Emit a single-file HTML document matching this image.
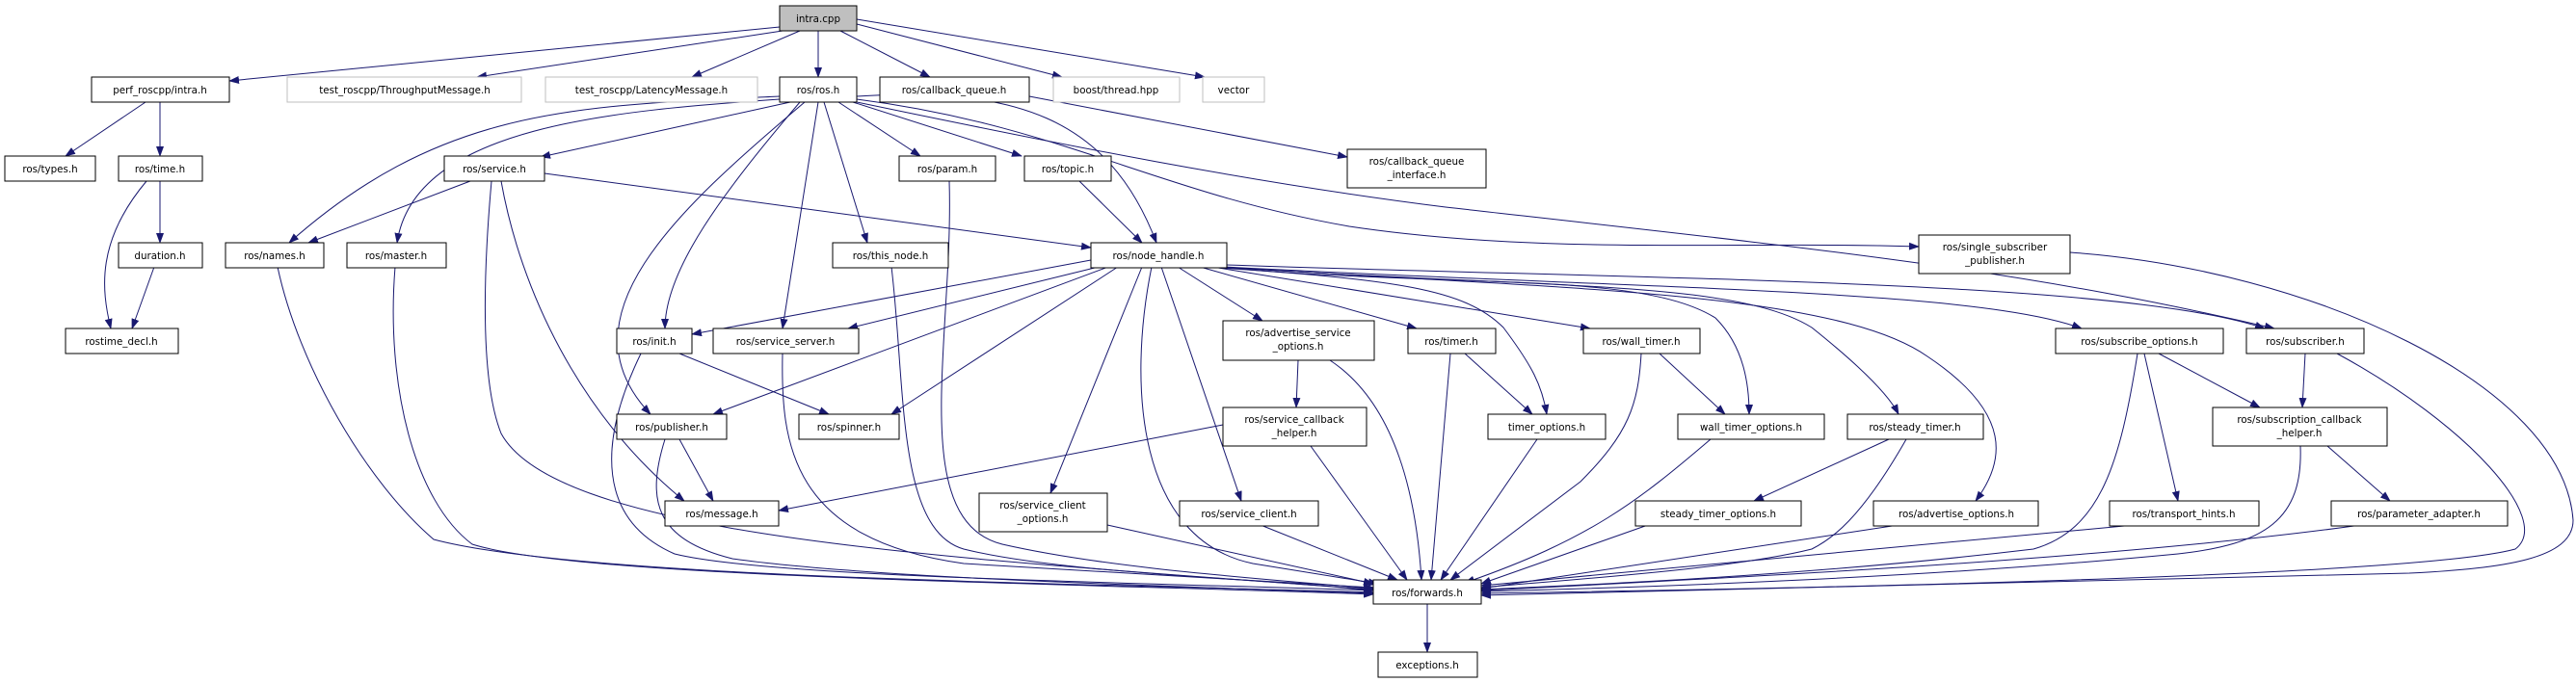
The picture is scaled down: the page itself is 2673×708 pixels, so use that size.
<!DOCTYPE html>
<html><head><meta charset="utf-8"><style>
html,body{margin:0;padding:0;background:#fff;}
svg{display:block;}
text{font-family:"DejaVu Sans","Liberation Sans",sans-serif;font-size:10.3px;fill:#000;text-anchor:middle;}
.n{fill:#fff;stroke:#000;stroke-width:1;}
.g{fill:#fff;stroke:#bfbfbf;stroke-width:1;}
.e{fill:none;stroke:#191970;stroke-width:1;}
</style></head><body>
<svg width="2673" height="708" viewBox="0 0 2673 708" xmlns="http://www.w3.org/2000/svg">
<defs><marker id="a" markerWidth="11" markerHeight="8" refX="10" refY="4" orient="auto" markerUnits="userSpaceOnUse"><path d="M0,0 L11,4 L0,8 z" fill="#191970"/></marker></defs>
<g class="e" marker-end="url(#a)">
<path d="M809 28 L238 84"/>
<path d="M812 32 L495 80"/>
<path d="M830 32 L718 80"/>
<path d="M849 32 L849 80"/>
<path d="M872 32 L965 80"/>
<path d="M889 25 L1102 80"/>
<path d="M889 20 L1250 80"/>
<path d="M151 106 L68 162"/>
<path d="M166 106 L166 162"/>
<path d="M166 188 L166 252"/>
<path d="M152 188 C100 250 105 300 115 341"/>
<path d="M160 277 L137 341"/>
<path d="M809 100 C600 110 460 110 300 252"/>
<path d="M809 103 C640 115 430 130 412 252"/>
<path d="M820 106 L561 163"/>
<path d="M830 106 C750 200 690 280 690 341"/>
<path d="M835 106 C700 220 580 330 675 430"/>
<path d="M849 106 L812 341"/>
<path d="M855 106 L900 252"/>
<path d="M870 106 L955 162"/>
<path d="M885 106 L1060 162"/>
<path d="M889 100 C1050 90 1150 120 1200 252"/>
<path d="M889 103 C1100 130 1200 200 1400 235 C1600 265 1800 250 1991 256"/>
<path d="M889 106 C1100 150 1300 190 1500 215 C1900 260 2100 280 2360 341"/>
<path d="M1068 100 L1398 163"/>
<path d="M488 188 L320 252"/>
<path d="M565 180 L1132 257"/>
<path d="M520 188 C540 300 600 430 710 520"/>
<path d="M510 188 C500 300 500 400 520 450 C580 560 1000 580 1425 612"/>
<path d="M288 277 C310 380 380 500 450 560 C600 600 1100 605 1425 615"/>
<path d="M410 277 C400 400 430 520 490 565 C600 600 1100 605 1425 617"/>
<path d="M925 277 C940 400 930 550 1000 570 C1100 595 1300 600 1425 613"/>
<path d="M985 188 C990 350 940 540 1040 565 C1150 590 1300 600 1425 611"/>
<path d="M1120 188 L1185 252"/>
<path d="M1132 270 L718 347"/>
<path d="M1140 277 L880 341"/>
<path d="M1150 277 L740 430"/>
<path d="M1160 277 L925 430"/>
<path d="M1185 277 L1090 512"/>
<path d="M1195 277 C1170 400 1180 560 1300 585 L1430 606"/>
<path d="M1205 277 L1288 520"/>
<path d="M1222 277 L1310 333"/>
<path d="M1245 277 L1470 341"/>
<path d="M1250 277 C1450 290 1520 300 1560 340 C1590 380 1600 400 1605 430"/>
<path d="M1258 277 L1650 341"/>
<path d="M1262 277 C1500 300 1700 280 1780 330 C1810 360 1815 400 1815 430"/>
<path d="M1265 277 C1600 300 1800 290 1880 340 C1930 380 1960 410 1970 430"/>
<path d="M1268 277 C1600 300 1900 300 2000 370 C2090 430 2080 480 2050 520"/>
<path d="M1270 277 C1700 300 2050 300 2160 341"/>
<path d="M1273 275 C1700 290 2200 290 2350 341"/>
<path d="M1347 374 L1345 423"/>
<path d="M1380 374 C1450 420 1470 520 1475 602"/>
<path d="M1520 367 L1590 430"/>
<path d="M1505 367 L1485 602"/>
<path d="M1722 367 L1790 430"/>
<path d="M1703 367 C1700 420 1690 450 1640 500 L1505 602"/>
<path d="M1269 441 L808 530"/>
<path d="M1360 463 L1460 602"/>
<path d="M1595 456 L1495 602"/>
<path d="M1775 456 C1700 520 1650 560 1520 605"/>
<path d="M1960 456 L1820 520"/>
<path d="M1978 456 C1930 540 1900 560 1880 570 C1800 590 1650 600 1537 610"/>
<path d="M1710 545 L1537 606"/>
<path d="M1970 545 L1537 611"/>
<path d="M1149 545 L1425 606"/>
<path d="M1308 545 L1450 602"/>
<path d="M705 367 L860 430"/>
<path d="M665 367 C620 460 620 540 700 575 C800 600 1200 605 1425 613"/>
<path d="M705 456 L740 520"/>
<path d="M690 456 C670 520 680 560 760 580 C900 600 1200 608 1425 616"/>
<path d="M812 367 C810 460 820 560 1000 585 L1425 610"/>
<path d="M2240 367 L2345 423"/>
<path d="M2225 367 L2260 520"/>
<path d="M2218 367 C2200 480 2180 550 2110 570 C1900 595 1700 605 1537 612"/>
<path d="M2392 367 L2389 423"/>
<path d="M2425 367 C2560 440 2650 540 2610 570 C2500 600 1800 612 1537 616"/>
<path d="M2415 463 L2480 520"/>
<path d="M2387 463 C2390 540 2350 565 2260 575 C2000 600 1700 610 1537 614"/>
<path d="M2215 545 L1537 608"/>
<path d="M2450 545 C2200 580 1800 600 1537 613"/>
<path d="M2148 262 C2400 280 2660 400 2670 540 C2670 580 2600 590 2500 595 L1537 618"/>
<path d="M1481 627 L1481 677"/>
</g>
<rect x="809" y="6" width="80" height="26" fill="#bfbfbf" stroke="#000"/><text x="849" y="23">intra.cpp</text>
<rect class="n" x="95" y="80" width="143" height="26"/><text x="166" y="97">perf_roscpp/intra.h</text>
<rect class="g" x="298" y="80" width="243" height="26"/><text x="420" y="97">test_roscpp/ThroughputMessage.h</text>
<rect class="g" x="566" y="80" width="220" height="26"/><text x="676" y="97">test_roscpp/LatencyMessage.h</text>
<rect class="n" x="809" y="80" width="80" height="26"/><text x="849" y="97">ros/ros.h</text>
<rect class="n" x="913" y="80" width="155" height="26"/><text x="990" y="97">ros/callback_queue.h</text>
<rect class="g" x="1093" y="80" width="131" height="26"/><text x="1158" y="97">boost/thread.hpp</text>
<rect class="g" x="1248" y="80" width="64" height="26"/><text x="1280" y="97">vector</text>
<rect class="n" x="5" y="162" width="94" height="26"/><text x="52" y="179">ros/types.h</text>
<rect class="n" x="123" y="162" width="87" height="26"/><text x="166" y="179">ros/time.h</text>
<rect class="n" x="461" y="162" width="104" height="26"/><text x="513" y="179">ros/service.h</text>
<rect class="n" x="933" y="162" width="100" height="26"/><text x="983" y="179">ros/param.h</text>
<rect class="n" x="1063" y="162" width="90" height="26"/><text x="1108" y="179">ros/topic.h</text>
<rect class="n" x="1398" y="155" width="144" height="40"/><text x="1470" y="171">ros/callback_queue</text><text x="1470" y="185">_interface.h</text>
<rect class="n" x="123" y="252" width="87" height="26"/><text x="166" y="269">duration.h</text>
<rect class="n" x="234" y="252" width="102" height="26"/><text x="285" y="269">ros/names.h</text>
<rect class="n" x="360" y="252" width="103" height="26"/><text x="411" y="269">ros/master.h</text>
<rect class="n" x="864" y="252" width="120" height="26"/><text x="924" y="269">ros/this_node.h</text>
<rect class="n" x="1132" y="252" width="141" height="26"/><text x="1202" y="269">ros/node_handle.h</text>
<rect class="n" x="1991" y="244" width="157" height="40"/><text x="2070" y="260">ros/single_subscriber</text><text x="2070" y="274">_publisher.h</text>
<rect class="n" x="68" y="341" width="117" height="26"/><text x="126" y="358">rostime_decl.h</text>
<rect class="n" x="640" y="341" width="78" height="26"/><text x="679" y="358">ros/init.h</text>
<rect class="n" x="740" y="341" width="151" height="26"/><text x="815" y="358">ros/service_server.h</text>
<rect class="n" x="1269" y="333" width="157" height="41"/><text x="1347" y="349">ros/advertise_service</text><text x="1347" y="363">_options.h</text>
<rect class="n" x="1461" y="341" width="91" height="26"/><text x="1506" y="358">ros/timer.h</text>
<rect class="n" x="1643" y="341" width="121" height="26"/><text x="1703" y="358">ros/wall_timer.h</text>
<rect class="n" x="2133" y="341" width="174" height="26"/><text x="2220" y="358">ros/subscribe_options.h</text>
<rect class="n" x="2331" y="341" width="122" height="26"/><text x="2392" y="358">ros/subscriber.h</text>
<rect class="n" x="640" y="430" width="114" height="26"/><text x="697" y="447">ros/publisher.h</text>
<rect class="n" x="829" y="430" width="104" height="26"/><text x="881" y="447">ros/spinner.h</text>
<rect class="n" x="1269" y="423" width="149" height="40"/><text x="1343" y="439">ros/service_callback</text><text x="1343" y="453">_helper.h</text>
<rect class="n" x="1544" y="430" width="122" height="26"/><text x="1605" y="447">timer_options.h</text>
<rect class="n" x="1741" y="430" width="152" height="26"/><text x="1817" y="447">wall_timer_options.h</text>
<rect class="n" x="1917" y="430" width="141" height="26"/><text x="1987" y="447">ros/steady_timer.h</text>
<rect class="n" x="2296" y="423" width="181" height="40"/><text x="2386" y="439">ros/subscription_callback</text><text x="2386" y="453">_helper.h</text>
<rect class="n" x="690" y="520" width="118" height="26"/><text x="749" y="537">ros/message.h</text>
<rect class="n" x="1016" y="512" width="133" height="40"/><text x="1082" y="528">ros/service_client</text><text x="1082" y="542">_options.h</text>
<rect class="n" x="1224" y="520" width="144" height="26"/><text x="1296" y="537">ros/service_client.h</text>
<rect class="n" x="1697" y="520" width="172" height="26"/><text x="1783" y="537">steady_timer_options.h</text>
<rect class="n" x="1944" y="520" width="171" height="26"/><text x="2030" y="537">ros/advertise_options.h</text>
<rect class="n" x="2189" y="520" width="155" height="26"/><text x="2266" y="537">ros/transport_hints.h</text>
<rect class="n" x="2419" y="520" width="183" height="26"/><text x="2510" y="537">ros/parameter_adapter.h</text>
<rect class="n" x="1425" y="602" width="112" height="25"/><text x="1481" y="619">ros/forwards.h</text>
<rect class="n" x="1430" y="677" width="103" height="26"/><text x="1481" y="694">exceptions.h</text>
</svg>
</body></html>
